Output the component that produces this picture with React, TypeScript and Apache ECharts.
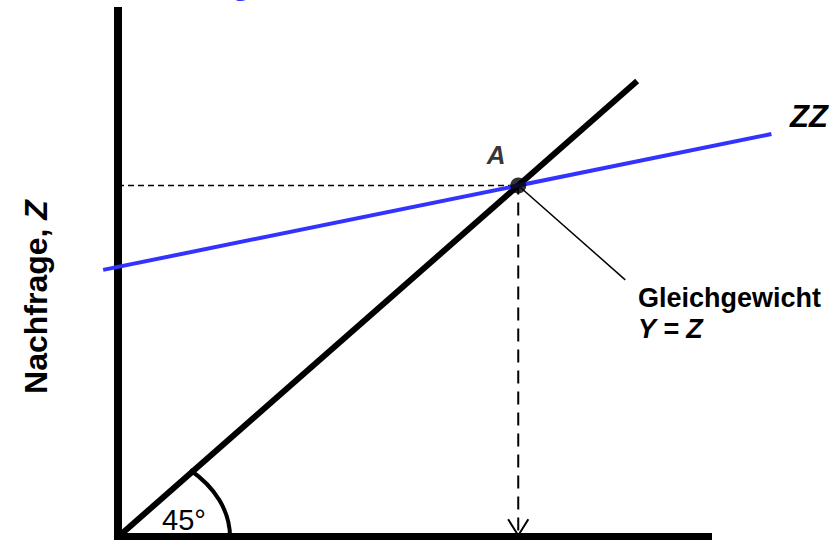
import React, { useEffect, useRef } from "react";
import * as echarts from "echarts";

// Scales (hidden axes)
const X_RANGE = [-5, 115];
const Y_RANGE = [0, 101.6];
// Axis lines drawn as series
const AXIS_X_END = 100;
const AXIS_Y_END = 101.6;
// 45-degree line Y = Z
const LINE45_END = 87.4;
// Demand line ZZ
const ZZ_X = [-2.5, 110];
const ZZ_Y = [51.2, 77.25];
// Leader line end for the "Gleichgewicht" note
const LEADER_END = [85.4, 49.3];
// Arrow head (half width, height) in data units
const ARROW = [1.7, 3.1];

const TEXT_TITLE = "g";
const TEXT_Y_LABEL = "Nachfrage, ";
const TEXT_Y_LABEL_VAR = "Z";
const TEXT_ZZ = "ZZ";
const TEXT_A = "A";
const TEXT_EQ1 = "Gleichgewicht";
const TEXT_EQ2 = "Y = Z";
const TEXT_ANGLE = "45°";

const FONT = "'Liberation Sans', Arial, sans-serif";
const BLUE = "#3333ff";

export default function App() {
  const ref = useRef<HTMLDivElement>(null);
  useEffect(() => {
    document.body.style.margin = "0";
    if (!ref.current) return;
    const chart = echarts.init(ref.current, null, { renderer: "svg" });

    const k = (ZZ_Y[1] - ZZ_Y[0]) / (ZZ_X[1] - ZZ_X[0]);
    const eqX = (ZZ_Y[0] - k * ZZ_X[0]) / (1 - k);
    const eqY = eqX;

    const option: any = {
      animation: false,
      grid: { left: 88.3, right: 38.9, top: 7, bottom: 3 },
      xAxis: { type: "value", min: X_RANGE[0], max: X_RANGE[1], show: false },
      yAxis: { type: "value", min: Y_RANGE[0], max: Y_RANGE[1], show: false },
      series: [
        {
          type: "line",
          clip: false,
          symbol: "none",
          data: [[0, AXIS_Y_END], [0, 0], [AXIS_X_END, 0]],
          lineStyle: { color: "#000", width: 8, cap: "butt", join: "miter" },
          z: 5,
        },
        {
          type: "line",
          clip: false,
          symbol: "none",
          data: [[0, 0], [LINE45_END, LINE45_END]],
          lineStyle: { color: "#000", width: 6, cap: "butt" },
          z: 4,
        },
        {
          type: "line",
          clip: false,
          symbol: "none",
          data: [[ZZ_X[0], ZZ_Y[0]], [ZZ_X[1], ZZ_Y[1]]],
          lineStyle: { color: BLUE, width: 4, cap: "butt" },
          z: 5,
        },
        {
          type: "line",
          clip: false,
          symbol: "none",
          data: [[0, eqY], [eqX, eqY]],
          lineStyle: { color: "#000", width: 1.5, type: [6, 4] },
          z: 3,
        },
        {
          type: "line",
          clip: false,
          symbol: "none",
          data: [[eqX, eqY], [eqX, 0.3]],
          lineStyle: { color: "#000", width: 2, type: [13, 8], dashOffset: 4 },
          z: 3,
        },
        {
          type: "line",
          clip: false,
          symbol: "none",
          data: [[eqX - ARROW[0], ARROW[1] + 0.3], [eqX, 0.3], [eqX + ARROW[0], ARROW[1] + 0.3]],
          lineStyle: { color: "#000", width: 2, join: "miter" },
          z: 3,
        },
        {
          type: "line",
          clip: false,
          symbol: "none",
          data: [[eqX, eqY], LEADER_END],
          lineStyle: { color: "#000", width: 1.5 },
          z: 3,
        },
        {
          type: "scatter",
          clip: false,
          symbol: "circle",
          symbolSize: 16,
          itemStyle: { color: "#000" },
          data: [[eqX, eqY]],
          z: 10,
          label: {
            show: true,
            position: "inside",
            offset: [-22, -31],
            formatter: TEXT_A,
            color: "#000",
            fontFamily: FONT,
            fontSize: 26,
            fontWeight: "bold",
            fontStyle: "italic",
          },
        },
      ],
    };
    chart.setOption(option);

    const o = chart.convertToPixel({ gridIndex: 0 }, [0, 0]) as number[];
    chart.setOption({
      graphic: [
        {
          type: "bezierCurve",
          shape: {
            x1: o[0] + 112,
            y1: o[1],
            cpx1: o[0] + 112,
            cpy1: o[1] - 26,
            cpx2: o[0] + 97,
            cpy2: o[1] - 50,
            x2: o[0] + 72,
            y2: o[1] - 67,
          },
          style: { stroke: "#000", lineWidth: 4, fill: null },
          z: 10,
        },
        {
          type: "text",
          x: 241,
          y: -18.5,
          style: {
            text: TEXT_TITLE,
            font: `bold 34px ${FONT}`,
            fill: BLUE,
            textAlign: "center",
            textVerticalAlign: "middle",
          },
        },
        {
          type: "text",
          x: 162,
          y: 520,
          style: {
            text: TEXT_ANGLE,
            font: `normal 29px ${FONT}`,
            fill: "#000",
            textAlign: "left",
            textVerticalAlign: "middle",
          },
        },
        {
          type: "text",
          x: 36,
          y: 297,
          rotation: Math.PI / 2,
          style: {
            text: `{n|${TEXT_Y_LABEL}}{v|${TEXT_Y_LABEL_VAR}}`,
            rich: {
              n: { fontFamily: FONT, fontSize: 32, fontWeight: "bold", fill: "#000" },
              v: { fontFamily: FONT, fontSize: 32, fontWeight: "bold", fontStyle: "italic", fill: "#000" },
            },
            textAlign: "center",
            textVerticalAlign: "middle",
          },
        },
        {
          type: "text",
          x: 809,
          y: 116.5,
          style: {
            text: TEXT_ZZ,
            font: `italic bold 31px ${FONT}`,
            fill: "#000",
            textAlign: "center",
            textVerticalAlign: "middle",
          },
        },
        {
          type: "text",
          x: 638,
          y: 297.5,
          style: {
            text: TEXT_EQ1,
            font: `bold 27px ${FONT}`,
            fill: "#000",
            textAlign: "left",
            textVerticalAlign: "middle",
          },
        },
        {
          type: "text",
          x: 638,
          y: 329,
          style: {
            text: TEXT_EQ2,
            font: `italic bold 27px ${FONT}`,
            fill: "#000",
            textAlign: "left",
            textVerticalAlign: "middle",
          },
        },
      ],
    });

    return () => chart.dispose();
  }, []);
  return <div ref={ref} style={{ width: 840, height: 540 }} />;
}
